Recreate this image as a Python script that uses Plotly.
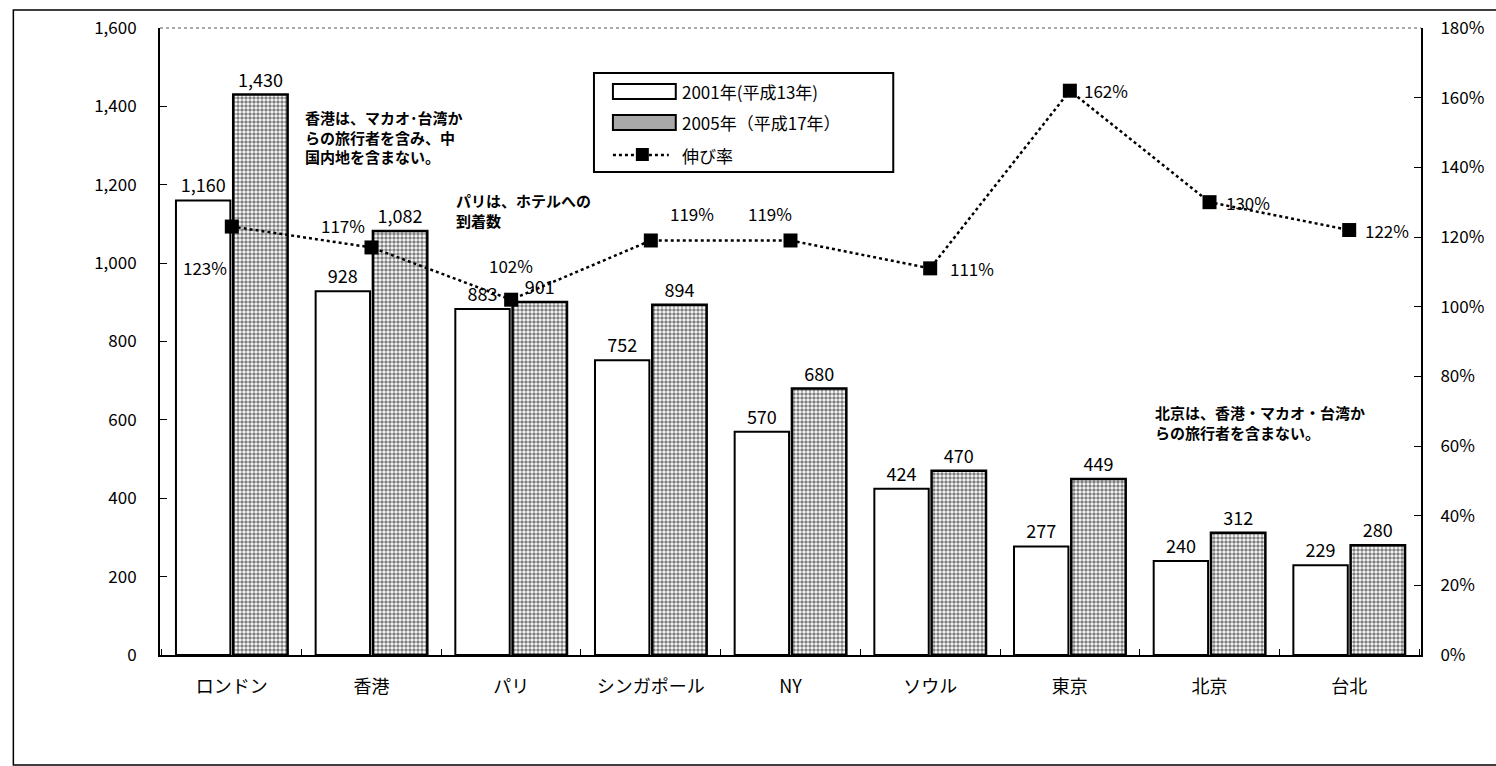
import plotly.graph_objects as go

# 都市別の外国人旅行者数（万人）と伸び率
cities = ["ロンドン", "香港", "パリ", "シンガポール", "NY", "ソウル", "東京", "北京", "台北"]
visitors_2001 = [1160, 928, 883, 752, 570, 424, 277, 240, 229]
visitors_2005 = [1430, 1082, 901, 894, 680, 470, 449, 312, 280]
growth_rate = [1.23, 1.17, 1.02, 1.19, 1.19, 1.11, 1.62, 1.30, 1.22]
growth_labels = ["123%", "117%", "102%", "119%", "119%", "111%", "162%", "130%", "122%"]
# 伸び率ラベルのマーカーからのずらし量 (x, y) [px]
growth_label_offsets = [(-27, -41), (-28, 22), (0, 34), (41, 27), (-21, 27),
                        (42, 0), (36, 0), (38, 0), (38, 0)]

W, H = 1496, 766
L, R, T, B = 160, 72, 28, 111
PW, PH = W - L - R, H - T - B
FONT = "Noto Sans CJK JP"


def px(x):
    return (x - L) / PW


def py(y):
    return (H - B - y) / PH


fig = go.Figure()

fig.add_trace(go.Bar(
    x=cities, y=visitors_2001, name="2001年(平成13年)",
    marker=dict(color="white", line=dict(color="black", width=2)),
    text=[f"{v:,}" for v in visitors_2001], textposition="outside",
    textfont=dict(size=18, color="black", family=FONT), cliponaxis=False,
))
fig.add_trace(go.Bar(
    x=cities, y=visitors_2005, name="2005年（平成17年）",
    marker=dict(color="white", line=dict(color="black", width=2.5),
                pattern=dict(shape=".", fgcolor="black", bgcolor="white",
                             size=4, solidity=0.6)),
    text=[f"{v:,}" for v in visitors_2005], textposition="outside",
    textfont=dict(size=18, color="black", family=FONT), cliponaxis=False,
))
fig.add_trace(go.Scatter(
    x=cities, y=growth_rate, name="伸び率", yaxis="y2", mode="lines+markers",
    line=dict(color="black", width=2.5, dash="dot"),
    marker=dict(symbol="square", size=14, color="black"), cliponaxis=False,
))

# 伸び率の数値ラベル
for c, g, lab, (dx, dy) in zip(cities, growth_rate, growth_labels, growth_label_offsets):
    fig.add_annotation(x=c, y=g, yref="y2", text=lab, showarrow=False,
                       xshift=dx, yshift=dy,
                       font=dict(size=17, color="black", family=FONT))

# 注記
notes = [
    (303, 105, "香港は、マカオ･台湾か<br>らの旅行者を含み、中<br>国内地を含まない。"),
    (455, 188, "パリは、ホテルへの<br>到着数"),
    (1155, 400, "北京は、香港・マカオ・台湾か<br>らの旅行者を含まない。"),
]
for x0, y0, txt in notes:
    fig.add_annotation(xref="paper", yref="paper", x=px(x0), y=py(y0), text=txt,
                       showarrow=False, xanchor="left", yanchor="top", align="left",
                       font=dict(size=15, color="black", family=FONT, weight="bold"))

# 凡例（図形と文字で構成）
shapes = [
    dict(type="rect", xref="paper", yref="paper", x0=px(595), x1=px(895),
         y0=py(172), y1=py(73), line=dict(color="black", width=2), fillcolor="white"),
    dict(type="rect", xref="paper", yref="paper", x0=px(614), x1=px(677),
         y0=py(99), y1=py(84), line=dict(color="black", width=2), fillcolor="white"),
    dict(type="rect", xref="paper", yref="paper", x0=px(614), x1=px(677),
         y0=py(130), y1=py(115), line=dict(color="black", width=2), fillcolor="#a8a8a8"),
    dict(type="line", xref="paper", yref="paper", x0=px(614), x1=px(670),
         y0=py(155), y1=py(155), line=dict(color="black", width=2.5, dash="dot")),
    dict(type="rect", xref="paper", yref="paper", x0=px(637), x1=px(650),
         y0=py(161), y1=py(148), line=dict(color="black", width=0), fillcolor="black"),
    # グラフ上辺の点線
    dict(type="line", xref="paper", yref="paper", x0=0, x1=1, y0=1, y1=1,
         line=dict(color="#555555", width=1, dash="dot")),
    # 外枠
    dict(type="rect", xref="paper", yref="paper", x0=px(13), x1=px(1510),
         y0=py(765), y1=py(10), line=dict(color="black", width=1.5)),
]
for y0, txt in [(91.5, "2001年(平成13年)"), (122, "2005年（平成17年）"), (155, "伸び率")]:
    fig.add_annotation(xref="paper", yref="paper", x=px(681), y=py(y0), text=txt,
                       showarrow=False, xanchor="left", yanchor="middle",
                       font=dict(size=17, color="black", family=FONT))

fig.update_layout(
    width=W, height=H,
    margin=dict(l=L, r=R, t=T, b=B),
    paper_bgcolor="white", plot_bgcolor="white",
    barmode="group", bargap=0.18, bargroupgap=0.05,
    showlegend=False,
    font=dict(family=FONT, color="black"),
    shapes=shapes,
    xaxis=dict(showline=True, linecolor="black", linewidth=2, ticks="inside",
               tickson="boundaries", ticklen=6, tickcolor="black",
               tickfont=dict(size=18), ticklabelstandoff=14),
    yaxis=dict(range=[0, 1600], dtick=200, tickformat=",", showgrid=False,
               showline=True, linecolor="black", linewidth=2, ticks="inside",
               ticklen=7, tickcolor="black", tickfont=dict(size=17),
               ticklabelstandoff=18, zeroline=False),
    yaxis2=dict(range=[0, 1.8], dtick=0.2, tickformat=".0%", overlaying="y",
                side="right", showgrid=False, showline=True, linecolor="black",
                linewidth=2, ticks="inside", ticklen=7, tickcolor="black",
                tickfont=dict(size=17), ticklabelstandoff=14, zeroline=False),
)

fig.write_html("out.html")
